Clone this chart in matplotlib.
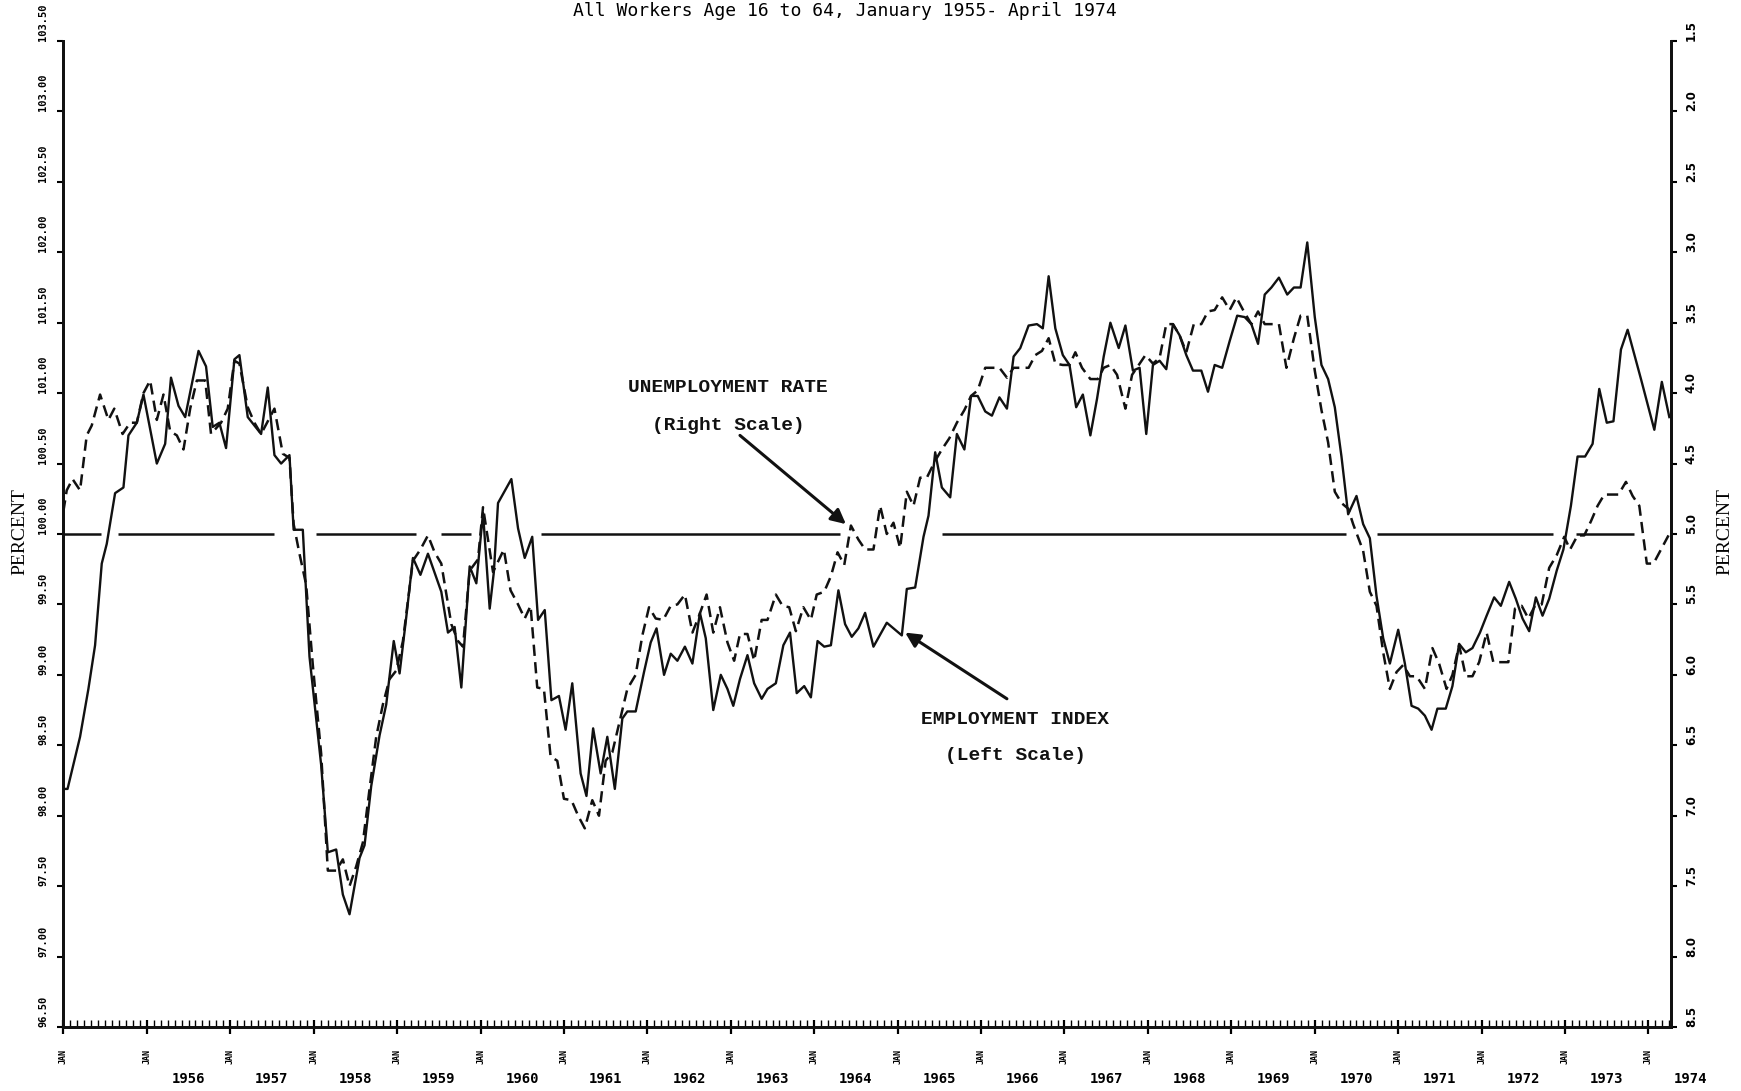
import numpy as np
import matplotlib
matplotlib.use("Agg")
import matplotlib.pyplot as plt

# employment index (left scale) as (decimal year, value)
emp_years = [
    1955.00, 1955.05, 1955.20, 1955.30, 1955.38, 1955.46, 1955.52, 1955.62, 1955.72, 1955.78,
    1955.88, 1955.96, 1956.12, 1956.22, 1956.29, 1956.38, 1956.46, 1956.62, 1956.71, 1956.79,
    1956.87, 1956.95, 1957.05, 1957.11, 1957.21, 1957.37, 1957.45, 1957.53, 1957.61, 1957.71,
    1957.76, 1957.87, 1957.95, 1958.09, 1958.17, 1958.27, 1958.35, 1958.43, 1958.55, 1958.61,
    1958.69, 1958.79, 1958.87, 1958.96, 1959.03, 1959.11, 1959.19, 1959.28, 1959.37, 1959.53,
    1959.61, 1959.69, 1959.77, 1959.87, 1959.95, 1960.03, 1960.11, 1960.16, 1960.21, 1960.37,
    1960.45, 1960.53, 1960.62, 1960.69, 1960.77, 1960.85, 1960.94, 1961.02, 1961.10, 1961.20,
    1961.27, 1961.35, 1961.44, 1961.52, 1961.61, 1961.70, 1961.76, 1961.86, 1961.96, 1962.04,
    1962.11, 1962.20, 1962.28, 1962.36, 1962.45, 1962.54, 1962.63, 1962.70, 1962.79, 1962.88,
    1962.96, 1963.03, 1963.11, 1963.20, 1963.28, 1963.37, 1963.44, 1963.54, 1963.63, 1963.71,
    1963.79, 1963.88, 1963.96, 1964.04, 1964.12, 1964.20, 1964.29, 1964.37, 1964.45, 1964.53,
    1964.61, 1964.71, 1964.87, 1965.05, 1965.11, 1965.21, 1965.31, 1965.37, 1965.45, 1965.53,
    1965.63, 1965.71, 1965.80, 1965.88, 1965.96, 1966.05, 1966.13, 1966.22, 1966.31, 1966.39,
    1966.47, 1966.57, 1966.67, 1966.74, 1966.81, 1966.89, 1966.98, 1967.06, 1967.14, 1967.22,
    1967.31, 1967.39, 1967.47, 1967.55, 1967.65, 1967.73, 1967.82, 1967.90, 1967.98, 1968.06,
    1968.14, 1968.22, 1968.30, 1968.38, 1968.46, 1968.54, 1968.64, 1968.72, 1968.80, 1968.89,
    1968.98, 1969.07, 1969.16, 1969.24, 1969.32, 1969.40, 1969.48, 1969.57, 1969.67, 1969.75,
    1969.83, 1969.91, 1970.00, 1970.08, 1970.16, 1970.24, 1970.32, 1970.40, 1970.50, 1970.58,
    1970.66, 1970.74, 1970.82, 1970.90, 1971.00, 1971.08, 1971.16, 1971.24, 1971.32, 1971.40,
    1971.47, 1971.57, 1971.65, 1971.73, 1971.81, 1971.89, 1971.98, 1972.06, 1972.15, 1972.23,
    1972.33, 1972.41, 1972.49, 1972.57, 1972.65, 1972.73, 1972.81, 1972.90, 1972.98, 1973.07,
    1973.15, 1973.24, 1973.33, 1973.41, 1973.50, 1973.58, 1973.67, 1973.75, 1973.91, 1974.07,
    1974.16, 1974.25,
]
emp_vals = [
    98.19, 98.19, 98.56, 98.90, 99.21, 99.79, 99.93, 100.29, 100.33, 100.70,
    100.79, 100.99, 100.50, 100.64, 101.11, 100.91, 100.83, 101.30, 101.19, 100.76,
    100.79, 100.61, 101.24, 101.27, 100.83, 100.71, 101.04, 100.56, 100.50, 100.56,
    100.03, 100.03, 99.13, 98.36, 97.74, 97.76, 97.44, 97.30, 97.70, 97.79,
    98.21, 98.57, 98.79, 99.24, 99.01, 99.41, 99.83, 99.71, 99.86, 99.59,
    99.30, 99.34, 98.91, 99.77, 99.65, 100.15, 99.47, 99.73, 100.22, 100.39,
    100.04, 99.83, 99.98, 99.39, 99.46, 98.82, 98.85, 98.61, 98.94, 98.30,
    98.14, 98.62, 98.30, 98.56, 98.19, 98.69, 98.74, 98.74, 99.02, 99.23,
    99.33, 99.00, 99.15, 99.10, 99.20, 99.08, 99.44, 99.26, 98.75, 99.00,
    98.90, 98.78, 98.97, 99.14, 98.94, 98.83, 98.90, 98.94, 99.21, 99.30,
    98.87, 98.92, 98.84, 99.24, 99.20, 99.21, 99.60, 99.36, 99.27, 99.33,
    99.44, 99.20, 99.37, 99.28, 99.61, 99.62, 99.98, 100.13, 100.58, 100.33,
    100.26, 100.71, 100.60, 100.98, 100.98, 100.87, 100.84, 100.97, 100.89, 101.26,
    101.32, 101.48, 101.49, 101.46, 101.83, 101.46, 101.27, 101.20, 100.90, 100.99,
    100.70, 100.96, 101.26, 101.50, 101.32, 101.48, 101.16, 101.18, 100.71, 101.20,
    101.23, 101.17, 101.49, 101.41, 101.27, 101.16, 101.16, 101.01, 101.20, 101.18,
    101.37, 101.55, 101.54, 101.49, 101.35, 101.70, 101.75, 101.82, 101.70, 101.75,
    101.75, 102.07, 101.54, 101.20, 101.10, 100.90, 100.55, 100.14, 100.27, 100.07,
    99.97, 99.56, 99.26, 99.08, 99.32, 99.08, 98.78, 98.76, 98.71, 98.61,
    98.76, 98.76, 98.92, 99.22, 99.16, 99.19, 99.30, 99.42, 99.55, 99.49,
    99.66, 99.54, 99.40, 99.31, 99.55, 99.42, 99.54, 99.74, 99.89, 100.20,
    100.55, 100.55, 100.64, 101.03, 100.79, 100.80, 101.31, 101.45, 101.10, 100.74,
    101.08, 100.83,
]

# unemployment rate (right scale, inverted)
unemp_years = [
    1955.00, 1955.04, 1955.11, 1955.20, 1955.28, 1955.34, 1955.44, 1955.54, 1955.61, 1955.71,
    1955.80, 1955.88, 1955.96, 1956.04, 1956.12, 1956.20, 1956.28, 1956.36, 1956.44, 1956.52,
    1956.60, 1956.70, 1956.77, 1956.89, 1956.97, 1957.05, 1957.11, 1957.21, 1957.29, 1957.37,
    1957.53, 1957.63, 1957.71, 1957.76, 1957.83, 1957.91, 1957.99, 1958.09, 1958.17, 1958.27,
    1958.35, 1958.43, 1958.51, 1958.59, 1958.67, 1958.75, 1958.83, 1958.91, 1958.99, 1959.07,
    1959.19, 1959.28, 1959.37, 1959.45, 1959.53, 1959.65, 1959.73, 1959.79, 1959.87, 1959.97,
    1960.03, 1960.15, 1960.28, 1960.36, 1960.45, 1960.53, 1960.60, 1960.68, 1960.76, 1960.84,
    1960.92, 1961.00, 1961.09, 1961.17, 1961.25, 1961.34, 1961.42, 1961.50, 1961.58, 1961.68,
    1961.76, 1961.86, 1961.94, 1962.02, 1962.10, 1962.19, 1962.28, 1962.36, 1962.45, 1962.54,
    1962.62, 1962.71, 1962.79, 1962.87, 1962.96, 1963.04, 1963.11, 1963.20, 1963.28, 1963.37,
    1963.44, 1963.54, 1963.62, 1963.70, 1963.78, 1963.87, 1963.96, 1964.03, 1964.12, 1964.20,
    1964.28, 1964.36, 1964.44, 1964.53, 1964.61, 1964.71, 1964.79, 1964.87, 1964.95, 1965.03,
    1965.11, 1965.19, 1965.27, 1965.35, 1965.45, 1965.53, 1965.62, 1965.71, 1965.80, 1965.88,
    1965.96, 1966.05, 1966.13, 1966.22, 1966.31, 1966.39, 1966.47, 1966.57, 1966.65, 1966.73,
    1966.81, 1966.89, 1966.98, 1967.06, 1967.13, 1967.21, 1967.31, 1967.40, 1967.47, 1967.55,
    1967.63, 1967.73, 1967.81, 1967.89, 1967.97, 1968.06, 1968.14, 1968.22, 1968.30, 1968.38,
    1968.46, 1968.55, 1968.64, 1968.72, 1968.80, 1968.89, 1968.98, 1969.06, 1969.15, 1969.24,
    1969.32, 1969.40, 1969.48, 1969.57, 1969.66, 1969.75, 1969.83, 1969.91, 1970.00, 1970.08,
    1970.16, 1970.24, 1970.32, 1970.40, 1970.46, 1970.58, 1970.66, 1970.74, 1970.82, 1970.90,
    1970.98, 1971.06, 1971.14, 1971.22, 1971.32, 1971.41, 1971.49, 1971.58, 1971.65, 1971.73,
    1971.81, 1971.89, 1971.97, 1972.06, 1972.14, 1972.23, 1972.32, 1972.40, 1972.48, 1972.56,
    1972.64, 1972.72, 1972.81, 1972.90, 1972.99, 1973.06, 1973.15, 1973.23, 1973.31, 1973.39,
    1973.47, 1973.55, 1973.64, 1973.73, 1973.81, 1973.89, 1973.98, 1974.06, 1974.15, 1974.24,
]
unemp_vals = [
    4.84, 4.69, 4.61, 4.69, 4.30, 4.23, 4.01, 4.19, 4.11, 4.29,
    4.21, 4.21, 4.00, 3.91, 4.19, 4.01, 4.27, 4.30, 4.40, 4.11,
    3.91, 3.91, 4.29, 4.21, 4.11, 3.77, 3.79, 4.10, 4.21, 4.29,
    4.11, 4.43, 4.46, 4.93, 5.14, 5.36, 5.93, 6.56, 7.39, 7.39,
    7.31, 7.50, 7.36, 7.19, 6.81, 6.44, 6.21, 6.03, 5.97, 5.76,
    5.19, 5.11, 5.01, 5.13, 5.21, 5.64, 5.76, 5.80, 5.26, 5.18,
    4.81, 5.27, 5.11, 5.40, 5.50, 5.60, 5.51, 6.09, 6.10, 6.58,
    6.61, 6.88, 6.89, 7.00, 7.09, 6.89, 7.00, 6.61, 6.55, 6.30,
    6.10, 6.00, 5.72, 5.52, 5.60, 5.61, 5.51, 5.50, 5.43, 5.70,
    5.58, 5.43, 5.70, 5.52, 5.77, 5.90, 5.71, 5.71, 5.90, 5.61,
    5.61, 5.43, 5.51, 5.52, 5.69, 5.52, 5.61, 5.43, 5.41, 5.30,
    5.13, 5.22, 4.94, 5.04, 5.11, 5.11, 4.80, 5.00, 4.92, 5.10,
    4.70, 4.80, 4.60, 4.60, 4.48, 4.40, 4.32, 4.21, 4.12, 4.02,
    3.98, 3.82, 3.82, 3.82, 3.89, 3.82, 3.82, 3.82, 3.73, 3.70,
    3.61, 3.79, 3.80, 3.80, 3.71, 3.82, 3.90, 3.90, 3.82, 3.80,
    3.87, 4.11, 3.87, 3.80, 3.73, 3.79, 3.75, 3.51, 3.51, 3.59,
    3.71, 3.51, 3.51, 3.42, 3.41, 3.32, 3.41, 3.32, 3.42, 3.51,
    3.42, 3.51, 3.51, 3.51, 3.82, 3.61, 3.45, 3.45, 3.84, 4.12,
    4.35, 4.70, 4.78, 4.82, 4.93, 5.12, 5.41, 5.51, 5.84, 6.10,
    5.98, 5.93, 6.01, 6.01, 6.10, 5.81, 5.92, 6.10, 6.00, 5.79,
    6.01, 6.01, 5.91, 5.70, 5.91, 5.91, 5.91, 5.53, 5.51, 5.60,
    5.51, 5.50, 5.24, 5.15, 5.02, 5.11, 5.01, 5.01, 4.91, 4.80,
    4.72, 4.72, 4.72, 4.63, 4.73, 4.80, 5.21, 5.21, 5.11, 5.01,
]

left_ticks = [96.5, 97.0, 97.5, 98.0, 98.5, 99.0, 99.5, 100.0,
              100.5, 101.0, 101.5, 102.0, 102.5, 103.0, 103.5]
right_ticks = [1.5, 2.0, 2.5, 3.0, 3.5, 4.0, 4.5, 5.0, 5.5, 6.0, 6.5, 7.0, 7.5, 8.0, 8.5]
year_labels = list(range(1956, 1975))
jan_ticks = list(range(1955, 1975))

# pen lifts in the 100 / 5.0 reference line
ref_segments = [(1955.00, 1955.45), (1955.66, 1957.53), (1958.03, 1959.23), (1959.53, 1959.89),
                (1960.72, 1964.31), (1965.53, 1970.38), (1970.74, 1972.85), (1973.13, 1973.83)]

MONO = ['Liberation Mono', 'DejaVu Sans Mono']
INK = '#111111'

fig = plt.figure(figsize=(17.41, 10.91), dpi=100)
ax = fig.add_axes([0.0364, 0.0587, 0.9234, 0.9037])
ax2 = ax.twinx()

ax.set_xlim(1955.0, 1974.27)
ax.set_ylim(96.5, 103.5)
ax2.set_ylim(8.5, 1.5)

for x0, x1 in ref_segments:
    ax.plot([x0, x1], [100, 100], color=INK, lw=1.8, solid_capstyle='butt')

ax.plot(emp_years, emp_vals, color=INK, lw=1.7)
ax2.plot(unemp_years, unemp_vals, color=INK, lw=1.8, linestyle=(0, (4.5, 2.5)))

# spines
for a in (ax, ax2):
    a.spines['top'].set_visible(False)
    for s in ('left', 'right', 'bottom'):
        a.spines[s].set_linewidth(2)
        a.spines[s].set_color(INK)

# left scale
ax.set_yticks(left_ticks)
ax.set_yticklabels([f'{v:.2f}' for v in left_ticks])
ax.tick_params(axis='y', direction='out', length=4, width=1.5, pad=7)
plt.setp(ax.get_yticklabels(), rotation=90, va='bottom', fontsize=7.5,
         fontweight='bold', family=['DejaVu Sans Mono'])

# right scale
ax2.set_yticks(right_ticks)
ax2.set_yticklabels([f'{v:.1f}' for v in right_ticks])
ax2.tick_params(axis='y', direction='out', length=4, width=1.5, pad=6)
plt.setp(ax2.get_yticklabels(), rotation=90, va='bottom', fontsize=8.5,
         fontweight='bold', family=['DejaVu Sans'])

# time axis
ax.set_xticks(jan_ticks)
ax.set_xticklabels(['JAN'] * len(jan_ticks))
ax.set_xticks(np.arange(1955, 1974.27, 1 / 12), minor=True)
ax.tick_params(axis='x', which='major', direction='inout', length=10, width=1.6, pad=11)
ax.tick_params(axis='x', which='minor', direction='in', length=5, width=1.0)
plt.setp(ax.get_xticklabels(), rotation=90, fontsize=6, fontweight='bold',
         family=['DejaVu Sans Mono'])
for yr in year_labels:
    ax.text(yr + 0.5, -0.053, str(yr), transform=ax.get_xaxis_transform(),
            ha='center', va='center', fontsize=10, fontweight='bold',
            family=['DejaVu Sans Mono'], clip_on=False)

# axis titles
fig.text(0.0115, 0.5125, 'PERCENT', rotation=90, ha='center', va='center',
         fontsize=14, family=['Liberation Serif'])
fig.text(0.9905, 0.5125, 'PERCENT', rotation=90, ha='center', va='center',
         fontsize=14, family=['Liberation Serif'])

# title, kept just inside the top edge
fig.text(0.485, 0.9985, 'All Workers Age 16 to 64, January 1955- April 1974',
         ha='center', va='top', fontsize=13, family=['DejaVu Sans Mono'])

# annotations
ax.text(1962.97, 101.04, 'UNEMPLOYMENT RATE', ha='center', va='center',
        fontsize=14, fontweight='bold', family=MONO, color=INK)
ax.text(1962.97, 100.77, '(Right Scale)', ha='center', va='center',
        fontsize=14, fontweight='bold', family=MONO, color=INK)
ax.annotate('', xy=(1964.38, 100.07), xytext=(1963.11, 100.70),
            arrowprops=dict(arrowstyle='-|>', lw=2.2, color=INK, mutation_scale=22,
                            shrinkA=0, shrinkB=0))

ax.text(1966.41, 98.68, 'EMPLOYMENT INDEX', ha='center', va='center',
        fontsize=14, fontweight='bold', family=MONO, color=INK)
ax.text(1966.41, 98.43, '(Left Scale)', ha='center', va='center',
        fontsize=14, fontweight='bold', family=MONO, color=INK)
ax.annotate('', xy=(1965.09, 99.30), xytext=(1966.31, 98.83),
            arrowprops=dict(arrowstyle='-|>', lw=2.2, color=INK, mutation_scale=22,
                            shrinkA=0, shrinkB=0))

fig.savefig('out.png', dpi=100)
